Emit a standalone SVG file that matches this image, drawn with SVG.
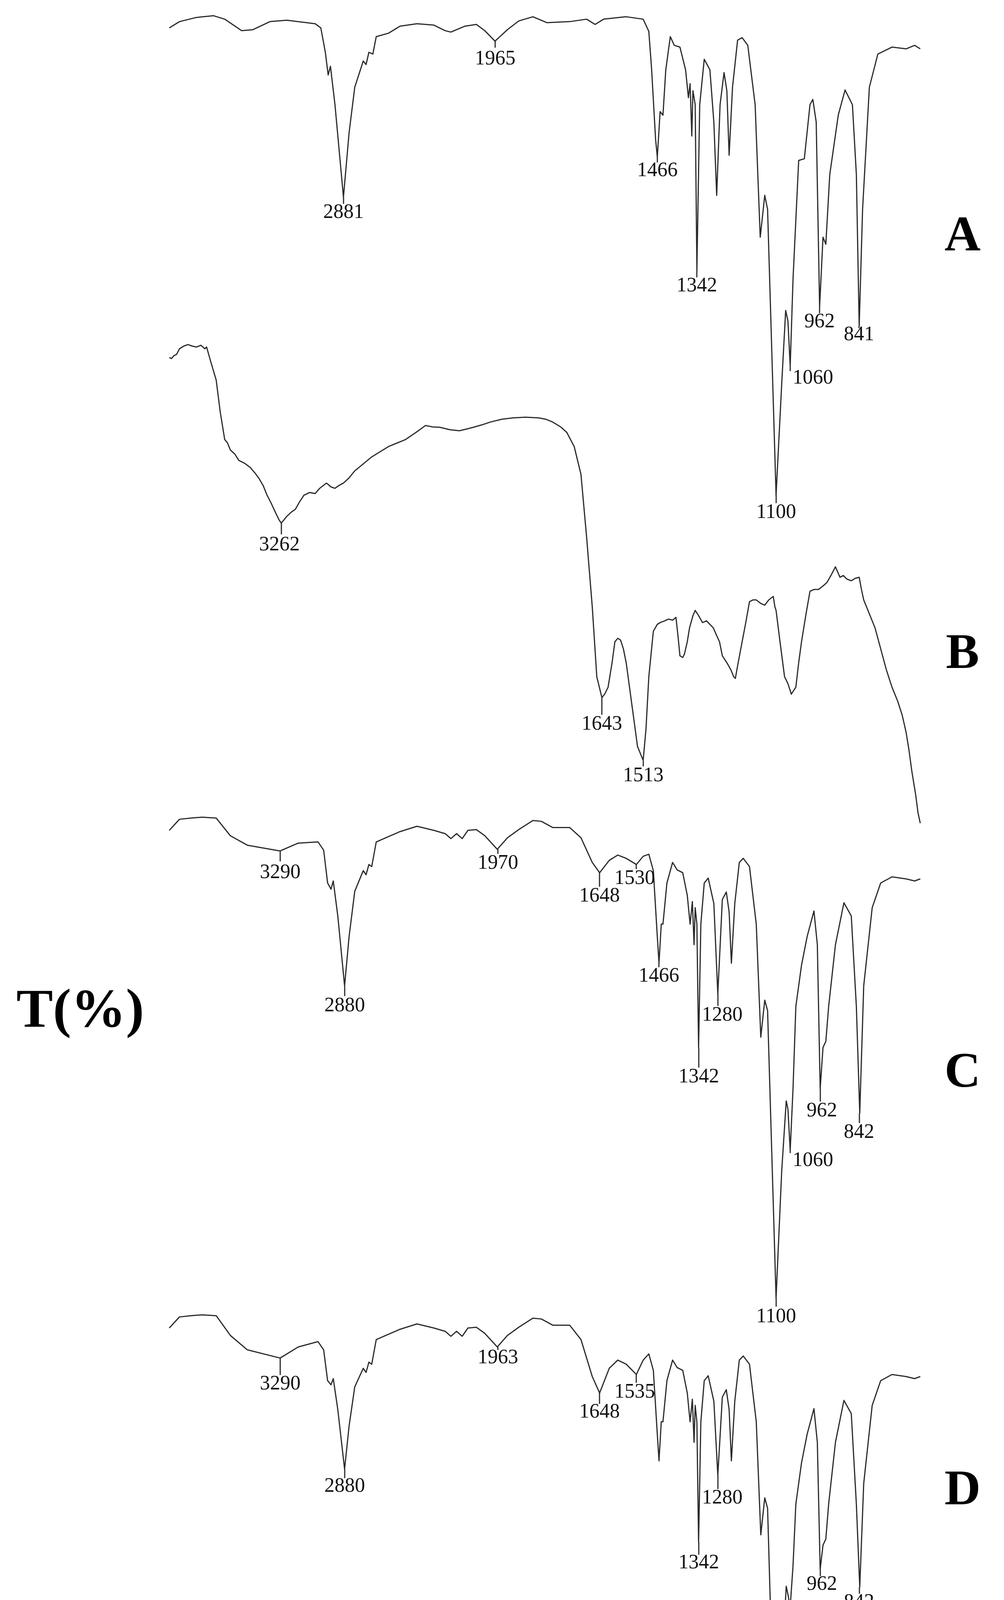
<svg xmlns="http://www.w3.org/2000/svg" width="2569" height="5158" viewBox="0 0 2569 5158">
<style>
.sp{fill:none;stroke:#2a2a2a;stroke-width:3;stroke-linejoin:round;vector-effect:non-scaling-stroke}
.tk{stroke:#2a2a2a;stroke-width:3}
.pk{font-family:"Liberation Serif",serif;font-size:52px;fill:#111;text-anchor:middle}
.pl{font-family:"Liberation Serif",serif;font-size:52px;fill:#111;text-anchor:start}
.lab{font-family:"Liberation Serif",serif;font-size:128px;font-weight:bold;fill:#000;text-anchor:middle}
.ax{font-family:"Liberation Serif",serif;font-size:64px;fill:#000;text-anchor:middle}
.ttl{font-family:"Liberation Serif",serif;font-size:140px;font-weight:bold;fill:#000}
</style>
<rect width="2569" height="5158" fill="#fff"/>
<g id="connectors">
<!-- spectrum A -->
<path class="sp" transform="translate(300,0) scale(1.447,0.893)" d="M92,80 L110,62 140,50 170,45 190,55 220,88 240,85 270,62 300,58 350,68 360,80 368,150 373,215 377,190 385,300 400,565 410,380 420,250 435,175 440,185 445,150 452,155 458,105 480,95 500,75 530,68 560,72 580,88 590,92 600,85 615,75 635,70 650,88 668,118 690,85 710,60 735,48 760,65 800,62 830,55 845,70 860,55 900,48 930,55 940,90 945,200 952,400 955,450 960,320 965,330 970,200 978,105 985,130 995,135 1005,200 1010,280 1013,240 1016,390 1018,260 1022,300 1025,775 1030,300 1038,170 1048,200 1055,350 1060,560 1066,300 1073,208 1078,260 1082,445 1088,250 1097,115 1105,108 1115,130 1128,300 1137,680 1145,560 1150,600 1165,1420 1175,1100 1182,890 1186,920 1190,1050 1195,800 1205,460 1215,455 1225,300 1230,285 1236,350 1242,880 1248,680 1253,700 1260,500 1275,330 1287,258 1300,300 1307,500 1312,935 1318,600 1330,250 1345,155 1370,135 1395,140 1410,130 1420,140"/>
<!-- spectrum B -->
<path class="sp" transform="translate(300,750) scale(1.447,0.893)" d="M92,185 L96,188 100,180 105,176 110,160 118,152 125,148 132,152 140,155 148,150 155,160 158,155 165,195 175,250 182,340 190,420 195,430 200,450 208,462 215,480 225,488 235,500 243,515 250,530 258,552 265,580 272,602 280,630 286,650 290,660 295,650 300,640 308,628 315,620 322,600 330,580 340,572 350,575 358,560 370,545 378,556 385,560 392,552 400,545 410,530 420,510 435,490 450,470 465,455 480,440 495,430 510,420 528,400 545,380 558,384 570,385 588,392 605,395 618,390 630,385 645,378 660,370 680,362 700,358 722,356 745,358 758,362 770,370 785,385 795,400 808,440 820,520 830,700 840,900 848,1100 857,1160 862,1150 868,1130 875,1060 880,1000 885,990 890,995 895,1020 900,1060 910,1180 920,1300 925,1320 930,1340 935,1250 940,1100 948,970 955,950 960,945 968,940 975,935 982,938 988,930 992,990 995,1040 1000,1045 1003,1035 1008,1000 1012,960 1018,925 1022,910 1028,925 1035,945 1042,940 1048,950 1054,960 1058,975 1065,1000 1070,1040 1078,1060 1085,1080 1090,1100 1093,1105 1098,1060 1105,1000 1112,940 1118,885 1124,880 1130,880 1138,890 1145,895 1152,880 1160,870 1163,900 1165,910 1172,1000 1180,1100 1186,1120 1192,1150 1196,1140 1200,1130 1205,1060 1210,1000 1218,920 1225,855 1232,850 1240,850 1248,840 1255,830 1262,810 1270,785 1274,800 1278,815 1284,810 1290,820 1298,825 1305,818 1312,815 1316,850 1320,880 1330,920 1340,960 1350,1020 1360,1080 1370,1130 1380,1170 1388,1210 1395,1260 1400,1310 1405,1370 1412,1440 1416,1490 1420,1520"/>
<!-- spectrum C -->
<path class="sp" transform="translate(300,2050) scale(1.447,1.0526)" d="M92,72 L110,45 130,42 150,40 175,42 200,85 230,108 288,122 320,103 355,100 365,120 372,200 378,215 382,195 390,280 402,450 410,330 420,220 435,170 440,180 445,155 450,160 458,100 475,90 500,75 530,62 560,72 580,80 590,92 600,80 610,92 620,72 635,70 650,85 672,118 690,90 710,70 735,48 750,50 770,65 800,65 820,90 840,150 853,175 870,145 885,132 900,140 918,155 930,135 940,130 948,170 955,330 958,395 962,300 965,300 972,200 982,150 990,168 1000,175 1008,230 1013,300 1017,245 1020,350 1022,260 1025,300 1028,600 1032,300 1038,200 1045,188 1055,250 1062,470 1070,240 1077,222 1082,270 1086,395 1092,250 1100,150 1107,140 1118,160 1130,300 1138,575 1145,485 1150,510 1165,1210 1175,900 1183,730 1186,750 1190,850 1195,700 1200,500 1210,400 1220,330 1232,268 1238,350 1243,700 1248,600 1253,585 1258,500 1270,350 1285,248 1298,280 1307,500 1313,760 1320,450 1335,260 1350,200 1370,185 1395,190 1410,195 1420,190"/>
<!-- spectrum D -->
<path class="sp" transform="translate(300,3324) scale(1.447,1.0526)" d="M92,72 L110,45 130,42 150,40 175,42 200,90 230,125 288,145 320,118 355,105 365,125 372,200 378,210 382,195 390,270 402,415 410,310 420,215 435,170 440,180 445,155 450,160 458,100 475,90 500,75 530,62 560,72 580,80 590,92 600,80 610,92 620,72 635,70 650,85 672,118 690,90 710,70 735,48 750,50 770,65 800,65 820,100 840,190 853,230 870,170 885,150 900,160 918,185 930,150 940,135 948,175 955,330 958,395 962,300 965,300 972,200 982,150 990,168 1000,175 1008,230 1013,300 1017,245 1020,350 1022,260 1025,300 1028,593 1032,300 1038,200 1045,188 1055,250 1062,430 1070,240 1077,222 1082,270 1086,395 1092,250 1100,150 1107,140 1118,160 1130,300 1138,575 1145,485 1150,510 1165,1225 1175,900 1183,700 1186,720 1190,750 1195,650 1200,500 1210,400 1220,330 1232,268 1238,350 1243,659 1248,600 1253,585 1258,500 1270,350 1285,248 1298,280 1307,500 1313,702 1320,450 1335,260 1350,200 1370,185 1395,190 1410,195 1420,190"/>
</g>
<g id="peaks-A">
<path class="tk" d="M879,505V522 M1267,105V122 M1682,402V416 M1783,692V710 M1986,1268V1288 M2022,938V950 M2097,786V802 M2198,835V840"/>
<text class="pk" x="879" y="558">2881</text>
<text class="pk" x="1267" y="165">1965</text>
<text class="pk" x="1682" y="451">1466</text>
<text class="pk" x="1783" y="746">1342</text>
<text class="pk" x="1986" y="1326">1100</text>
<text class="pl" x="2028" y="982">1060</text>
<text class="pk" x="2097" y="838">962</text>
<text class="pk" x="2198" y="871">841</text>
</g>
<g id="peaks-B">
<path class="tk" d="M720,1340V1368 M1540,1786V1830 M1646,1948V1962"/>
<text class="pk" x="715" y="1409">3262</text>
<text class="pk" x="1540" y="1868">1643</text>
<text class="pk" x="1646" y="2000">1513</text>
</g>
<g id="peaks-C">
<path class="tk" d="M717,2178V2205 M882,2524V2550 M1274,2174V2186 M1534,2234V2270 M1628,2213V2225 M1686,2466V2476 M1788,2682V2733 M1837,2545V2575 M2099,2787V2820 M2199,2850V2875 M2022,2945V2952 M1986,3324V3345"/>
<text class="pk" x="717" y="2248">3290</text>
<text class="pk" x="882" y="2589">2880</text>
<text class="pk" x="1274" y="2224">1970</text>
<text class="pk" x="1534" y="2308">1648</text>
<text class="pk" x="1624" y="2263">1530</text>
<text class="pk" x="1686" y="2513">1466</text>
<text class="pk" x="1788" y="2771">1342</text>
<text class="pk" x="1848" y="2613">1280</text>
<text class="pk" x="2103" y="2858">962</text>
<text class="pk" x="2198" y="2913">842</text>
<text class="pl" x="2028" y="2985">1060</text>
<text class="pk" x="1986" y="3385">1100</text>
</g>
<g id="peaks-D">
<path class="tk" d="M717,3477V3520 M1274,3448V3456 M1534,3566V3594 M1628,3519V3540 M882,3761V3784 M1837,3777V3812 M1788,3948V3980 M2099,4018V4035 M2199,4063V4080 M2022,4113V4130 M1986,4613V4620"/>
<text class="pk" x="717" y="3557">3290</text>
<text class="pk" x="1274" y="3490">1963</text>
<text class="pk" x="1534" y="3629">1648</text>
<text class="pk" x="1624" y="3578">1535</text>
<text class="pk" x="882" y="3819">2880</text>
<text class="pk" x="1848" y="3849">1280</text>
<text class="pk" x="1788" y="4015">1342</text>
<text class="pk" x="2103" y="4070">962</text>
<text class="pk" x="2198" y="4116">842</text>
<text class="pl" x="2028" y="4165">1060</text>
<text class="pk" x="1986" y="4656">1100</text>
</g>
<g id="labels">
<text class="lab" x="2463" y="641">A</text>
<text class="lab" x="2463" y="1710">B</text>
<text class="lab" x="2463" y="2782">C</text>
<text class="lab" x="2463" y="3851">D</text>
<text class="ttl" x="42" y="2628">T(%)</text>
</g>
<g id="x-axis">
<path d="M418,4737H2354" stroke="#000" stroke-width="8"/>
<path d="M418,4737V4767 M913,4737V4767 M1410,4737V4767 M1905,4737V4767 M2354,4737V4767" stroke="#000" stroke-width="5"/>
<text class="ax" x="418" y="4823">4000</text>
<text class="ax" x="913" y="4823">2800</text>
<text class="ax" x="1410" y="4823">1800</text>
<text class="ax" x="1905" y="4823">1200</text>
<text class="ax" x="2354" y="4823">650</text>
<text class="ttl" x="1390" y="5105" text-anchor="middle">Wavenumber (cm<tspan font-size="84" dy="-52">-1</tspan><tspan dy="52">)</tspan></text>
</g>
</svg>
